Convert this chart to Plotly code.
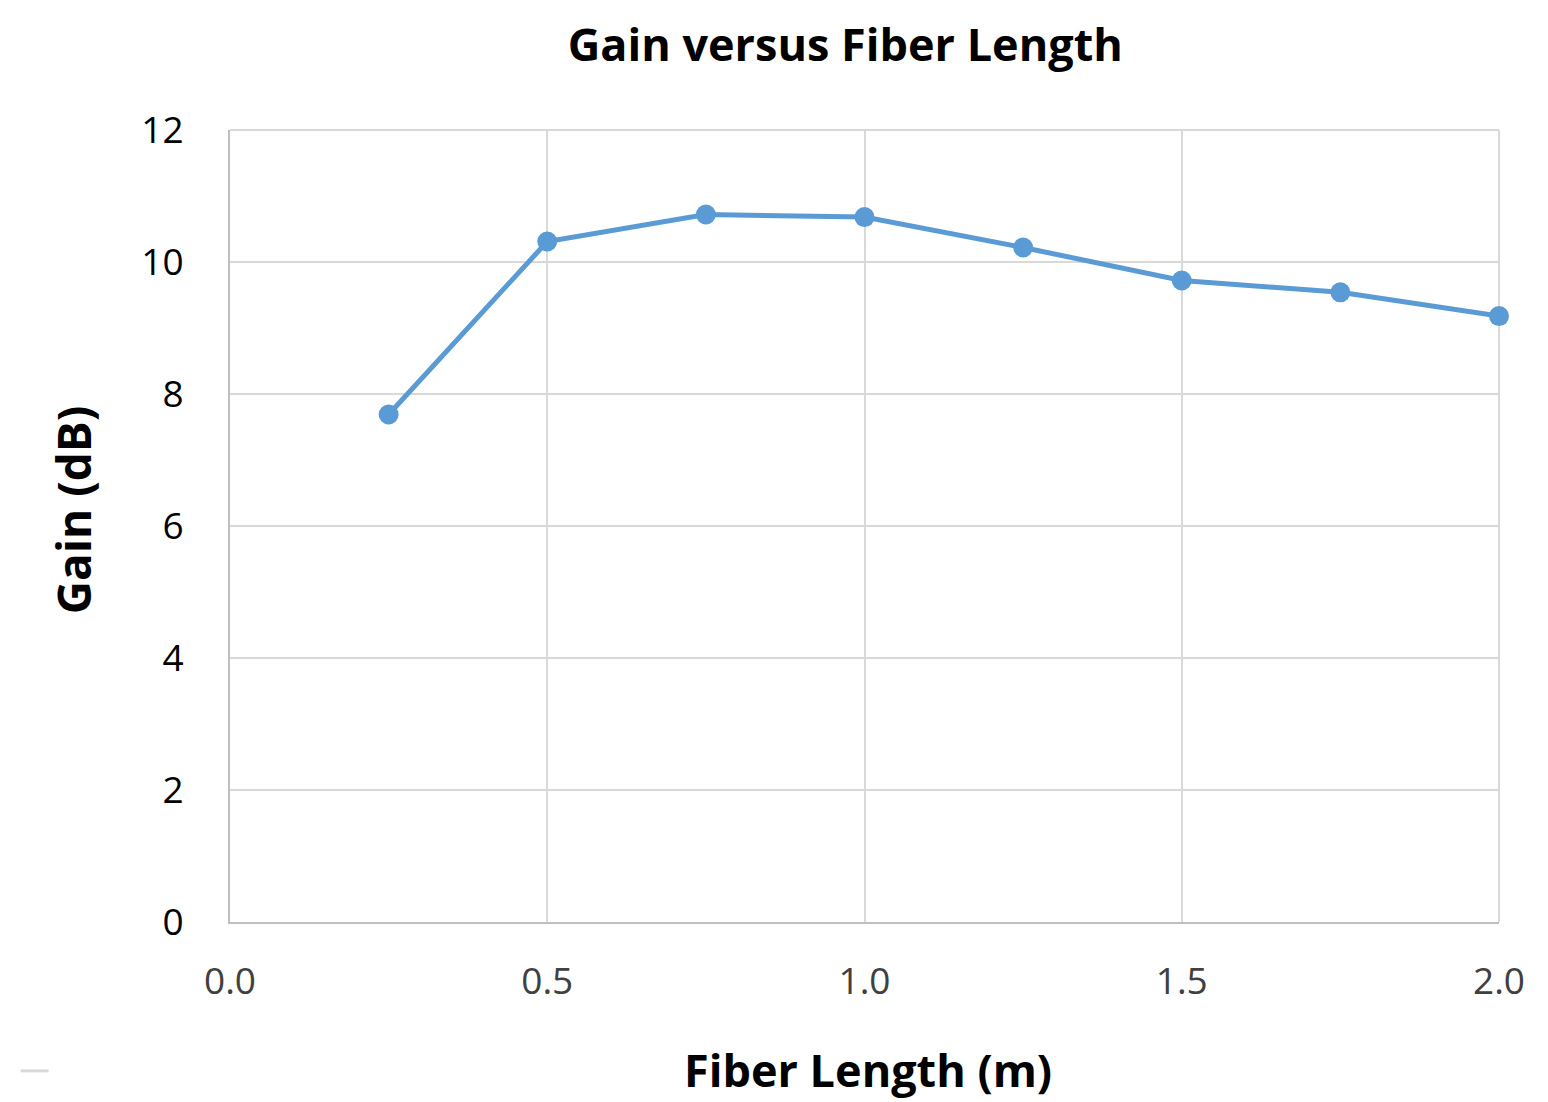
import plotly.graph_objects as go

fiber_length = [0.25, 0.5, 0.75, 1.0, 1.25, 1.5, 1.75, 2.0]
gain_db = [7.69, 10.31, 10.72, 10.68, 10.22, 9.72, 9.54, 9.18]
x_ticks = [0.0, 0.5, 1.0, 1.5, 2.0]
x_tick_labels = ["0.0", "0.5", "1.0", "1.5", "2.0"]
y_ticks = [0, 2, 4, 6, 8, 10, 12]

FONT = "Open Sans"

fig = go.Figure()
fig.add_trace(go.Scatter(
    x=fiber_length, y=gain_db, mode="lines+markers",
    line=dict(color="#5b9bd5", width=5),
    marker=dict(color="#5b9bd5", size=20),
    showlegend=False, cliponaxis=False,
))

fig.update_layout(
    width=1548, height=1102,
    margin=dict(l=230, r=49, t=130, b=180),
    paper_bgcolor="white", plot_bgcolor="white",
    title=dict(text="<b>Gain versus Fiber Length</b>", x=0.546, xanchor="center",
               y=0.959, yanchor="middle",
               font=dict(family=FONT, size=45, color="#000000")),
    xaxis=dict(
        range=[0, 2], tickvals=x_ticks, ticktext=x_tick_labels,
        showgrid=True, gridcolor="#d9d9d9", gridwidth=2,
        showline=True, linecolor="#bfbfbf", linewidth=2,
        zeroline=False, ticks="", ticklabelstandoff=26,
        tickfont=dict(family=FONT, size=37, color="#404040"),
    ),
    yaxis=dict(
        range=[0, 12], tickvals=y_ticks,
        showgrid=True, gridcolor="#d9d9d9", gridwidth=2,
        showline=True, linecolor="#bfbfbf", linewidth=2,
        zeroline=False, ticks="", ticklabelstandoff=37,
        tickfont=dict(family=FONT, size=37, color="#000000"),
    ),
    annotations=[
        dict(text="<b>Fiber Length (m)</b>", xref="paper", yref="paper",
             x=0.503, y=-0.186, xanchor="center", yanchor="middle", showarrow=False,
             font=dict(family=FONT, size=45, color="#000000")),
        dict(text="<b>Gain (dB)</b>", xref="paper", yref="paper", textangle=-90,
             x=-0.1237, y=0.52, xanchor="center", yanchor="middle", showarrow=False,
             font=dict(family=FONT, size=46, color="#000000")),
    ],
    shapes=[
        dict(type="line", xref="paper", yref="paper", x0=1, x1=1, y0=0, y1=1,
             line=dict(color="#d9d9d9", width=2), layer="below"),
        dict(type="line", xref="paper", yref="paper", x0=0, x1=1, y0=1, y1=1,
             line=dict(color="#d9d9d9", width=2), layer="below"),
        dict(type="line", xref="paper", yref="paper", x0=-0.165, x1=-0.143,
             y0=-0.188, y1=-0.188, line=dict(color="#d9d9d9", width=3)),
    ],
)

fig.write_html("out.html")
